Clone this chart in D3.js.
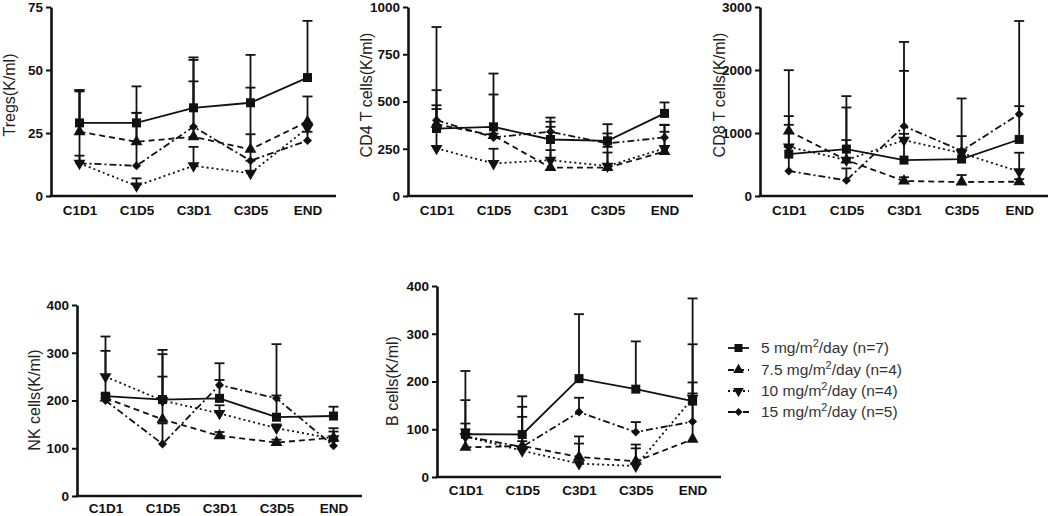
<!DOCTYPE html>
<html><head><meta charset="utf-8">
<script src="https://cdn.jsdelivr.net/npm/d3@7"></script>
<style>body{margin:0;background:#fff}svg{display:block;background:#fff}</style>
</head><body><svg id="c" width="1050" height="516"></svg>
<script>
// ---------- DATA ----------
const categories = ["C1D1", "C1D5", "C3D1", "C3D5", "END"];
const doseLabels = ["5", "7.5", "10", "15"];
const groupSizes = [7, 4, 4, 5];

const panelTitles = ["Tregs(K/ml)", "CD4 T cells(K/ml)", "CD8 T cells(K/ml)", "NK cells(K/ml)", "B cells(K/ml)"];
const tregsTicks = [0, 25, 50, 75];
const cd4Ticks = [0, 250, 500, 750, 1000];
const cd8Ticks = [0, 1000, 2000, 3000];
const nkTicks = [0, 100, 200, 300, 400];
const bTicks = [0, 100, 200, 300, 400];

// means per dose group (5, 7.5, 10, 15 mg/m2/day)
const tregsMean = [
  [29, 29, 35, 37, 47],
  [25.5, 21.5, 23.5, 18.5, 29.5],
  [13, 4, 12, 9, 27],
  [13, 12, 27.5, 14, 22]
];
const tregsErr = [
  [13, 14.5, 20, 19, 22.5],
  [16, 11.5, 22, 6, 10],
  [29, 3, 7.5, 5, 2],
  [3, 21, 26.5, 29, 3.5]
];
const cd4Mean = [
  [357, 366, 299, 292, 437],
  [380, 320, 150, 150, 235],
  [252, 172, 190, 158, 252],
  [401, 310, 340, 278, 310]
];
const cd4Err = [
  [537, 282, 116, 88, 58],
  [100, 217, 93, 110, 105],
  [208, 78, 176, 72, 125],
  [159, 20, 53, 53, 65]
];
const cd8Mean = [
  [665, 745, 570, 586, 898],
  [1030, 570, 238, 222, 227],
  [780, 570, 887, 680, 386],
  [396, 248, 1109, 718, 1300]
];
const cd8Err = [
  [603, 840, 1416, 962, 1880],
  [100, 317, 60, 111, 40],
  [1217, 835, 100, 60, 301],
  [384, 190, 1336, 233, 126]
];
const nkMean = [
  [209, 202, 204.5, 165, 167.5],
  [205, 160.5, 126, 112, 122],
  [250, 200, 173, 142, 120],
  [200, 109, 232.5, 204.5, 105]
];
const nkErr = [
  [125, 104, 73.5, 153, 19.5],
  [8, 89.5, 8, 6, 20],
  [54, 97, 17, 8, 15],
  [6, 43, 10.5, 6, 10]
];
const bMean = [
  [89.5, 89, 206, 184, 159],
  [62, 65, 42, 33, 79],
  [85, 55, 28, 23, 165],
  [85, 63, 136, 94, 116]
];
const bErr = [
  [132.5, 80, 135, 100, 215],
  [50, 61, 43, 35, 199],
  [76, 20, 42, 37, 10],
  [15, 84, 30, 21, 82]
];

// ---------- LAYOUT / STYLE ----------
const panels = [
  {title: panelTitles[0], ticks: tregsTicks, mean: tregsMean, err: tregsErr, x0: 51, x1: 336, yB: 196, yT: 7, lx: 9, ly: 95, pad: 9},
  {title: panelTitles[1], ticks: cd4Ticks, mean: cd4Mean, err: cd4Err, x0: 408, x1: 693, yB: 196, yT: 7, lx: 366, ly: 95, pad: 9},
  {title: panelTitles[2], ticks: cd8Ticks, mean: cd8Mean, err: cd8Err, x0: 760, x1: 1048, yB: 196, yT: 7, lx: 719, ly: 95, pad: 9},
  {title: panelTitles[3], ticks: nkTicks, mean: nkMean, err: nkErr, x0: 77, x1: 362, yB: 496, yT: 305, lx: 34, ly: 400, pad: 7},
  {title: panelTitles[4], ticks: bTicks, mean: bMean, err: bErr, x0: 437, x1: 721, yB: 477, yT: 286, lx: 392, ly: 381, pad: 8}
];
const dashes = [null, "6,4", "2,3", "7,3,2,3"];
const symbols = [
  {type: d3.symbolSquare, size: 81, rot: 0},
  {type: d3.symbolTriangle, size: 62, rot: 0},
  {type: d3.symbolTriangle, size: 62, rot: 180},
  {type: d3.symbolSquare, size: 40, rot: 45}
];
const FONT = "Arial, 'Liberation Sans', sans-serif";
const INK = "#111";

const svg = d3.select("#c");

panels.forEach(p => {
  const g = svg.append("g");
  const x = d3.scalePoint().domain(categories).range([p.x0, p.x1]).padding(0.5);
  const y = d3.scaleLinear().domain([0, d3.max(p.ticks)]).range([p.yB, p.yT]);

  // error bars (upper only)
  p.mean.forEach((ser, si) => {
    ser.forEach((v, ci) => {
      const cx = x(categories[ci]);
      const top = y(v + p.err[si][ci]);
      g.append("line").attr("x1", cx).attr("x2", cx).attr("y1", y(v)).attr("y2", top)
        .attr("stroke", INK).attr("stroke-width", 1.8);
      g.append("line").attr("x1", cx - 5).attr("x2", cx + 5).attr("y1", top).attr("y2", top)
        .attr("stroke", INK).attr("stroke-width", 1.8);
    });
  });

  // lines
  const line = d3.line().x((d, i) => x(categories[i])).y(d => y(d));
  p.mean.forEach((ser, si) => {
    g.append("path").attr("d", line(ser)).attr("fill", "none")
      .attr("stroke", INK).attr("stroke-width", 1.8)
      .attr("stroke-dasharray", dashes[si]);
  });

  // markers
  p.mean.forEach((ser, si) => {
    const s = symbols[si];
    ser.forEach((v, ci) => {
      g.append("path").attr("d", d3.symbol(s.type, s.size)())
        .attr("transform", `translate(${x(categories[ci])},${y(v)}) rotate(${s.rot})`)
        .attr("fill", INK);
    });
  });

  // axes
  const ya = g.append("g").attr("transform", `translate(${p.x0},0)`)
    .call(d3.axisLeft(y).tickValues(p.ticks).tickFormat(d3.format("d")).tickSize(5).tickPadding(3).tickSizeOuter(0));
  ya.select(".domain").attr("stroke", INK).attr("stroke-width", 2.6);
  ya.selectAll(".tick line").attr("stroke", INK).attr("stroke-width", 2);
  ya.selectAll("text").attr("font-family", FONT).attr("font-size", 13.5).attr("font-weight", "bold").attr("fill", INK);

  const xa = g.append("g").attr("transform", `translate(0,${p.yB})`)
    .call(d3.axisBottom(x).tickSize(0).tickPadding(p.pad));
  xa.select(".domain").attr("d", `M${p.x0 - 1.3},0H${p.x1}`).attr("stroke", INK).attr("stroke-width", 2.6);
  xa.selectAll("text").attr("font-family", FONT).attr("font-size", 13.5).attr("font-weight", "bold").attr("fill", INK);

  // y title
  g.append("text").attr("transform", `translate(${p.lx},${p.ly}) rotate(-90)`)
    .attr("text-anchor", "middle").attr("dy", "0.35em")
    .attr("font-family", FONT).attr("font-size", 16).attr("fill", "#222")
    .text(p.title);
});

// legend
const leg = svg.append("g");
const legY = [353, 375, 396, 417];
doseLabels.forEach((d, i) => {
  const cy = legY[i] - 5;
  leg.append("line").attr("x1", 728).attr("x2", 749).attr("y1", cy).attr("y2", cy)
    .attr("stroke", INK).attr("stroke-width", 1.8).attr("stroke-dasharray", dashes[i]);
  const s = symbols[i];
  leg.append("path").attr("d", d3.symbol(s.type, s.size * 0.8)())
    .attr("transform", `translate(738.5,${cy}) rotate(${s.rot})`).attr("fill", INK);
  const t = leg.append("text").attr("x", 761).attr("y", legY[i])
    .attr("font-family", FONT).attr("font-size", 15.5).attr("fill", "#333");
  t.append("tspan").text(`${d} mg/m`);
  t.append("tspan").attr("dy", -6).attr("font-size", 11).text("2");
  t.append("tspan").attr("dy", 6).text(`/day (n=${groupSizes[i]})`);
});
</script></body></html>
